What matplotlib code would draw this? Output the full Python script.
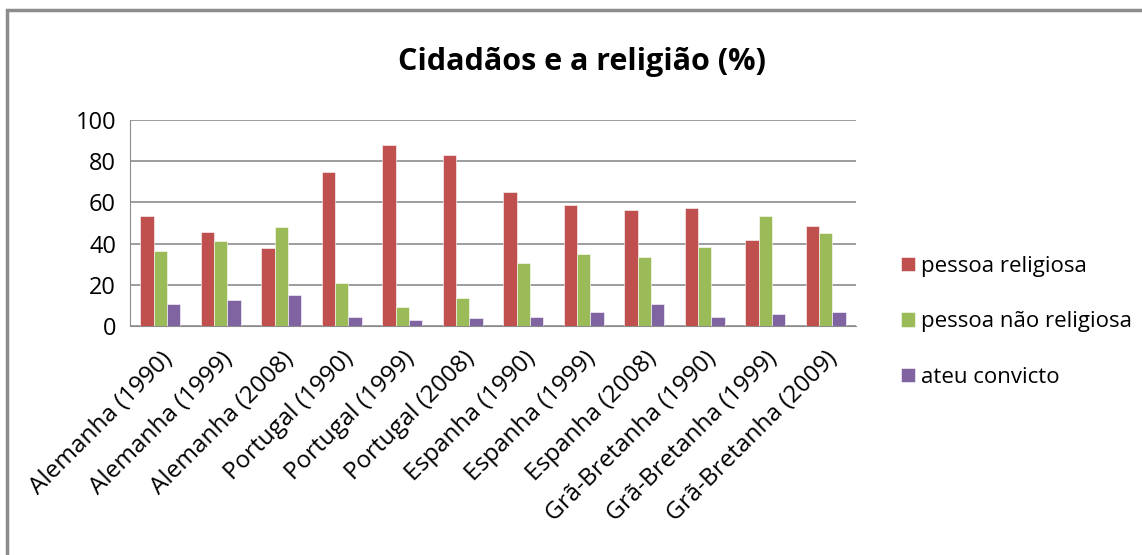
import numpy as np
import matplotlib.pyplot as plt
from matplotlib.patches import Rectangle

plt.rcParams['font.family'] = ['Open Sans', 'DejaVu Sans']

# dados
categorias = ['Alemanha (1990)', 'Alemanha (1999)', 'Alemanha (2008)',
              'Portugal (1990)', 'Portugal (1999)', 'Portugal (2008)',
              'Espanha (1990)', 'Espanha (1999)', 'Espanha (2008)',
              'Grã-Bretanha (1990)', 'Grã-Bretanha (1999)', 'Grã-Bretanha (2009)']
religiosa = [53.4, 45.8, 37.7, 74.8, 87.9, 83.0, 65.0, 58.7, 56.1, 57.4, 41.6, 48.4]
nao_religiosa = [36.2, 41.1, 47.9, 21.0, 9.2, 13.4, 30.6, 34.8, 33.3, 38.2, 53.2, 45.0]
ateu = [10.7, 12.8, 14.9, 4.5, 3.1, 3.7, 4.5, 6.6, 10.7, 4.5, 5.8, 6.6]
series = ['pessoa religiosa', 'pessoa não religiosa', 'ateu convicto']
cores = ['#C0504D', '#9BBB59', '#8064A2']

fig = plt.figure(figsize=(11.42, 5.55), dpi=100)
ax = fig.add_axes([130 / 1142, 1 - 326 / 555, 726 / 1142, 206 / 555])

# moldura do gráfico
fig.patches.append(Rectangle((7 / 1142, -0.1), 1.2, 1 - 10 / 555 + 0.1,
                             transform=fig.transFigure, fill=False,
                             edgecolor='#8c8c8c', linewidth=2.5))

x = np.arange(len(categorias))
w = 0.22
for i, (vals, nome) in enumerate(zip([religiosa, nao_religiosa, ateu], series)):
    ax.bar(x + (i - 1) * w, vals, w, color=cores[i], label=nome,
           edgecolor='white', linewidth=0.4, zorder=3)

ax.set_xlim(-0.5, len(categorias) - 0.5)
ax.set_ylim(0, 100)
ax.set_yticks(range(0, 101, 20))
ax.grid(axis='y', color='#8c8c8c', linewidth=1.2, zorder=0)
for s in ['top', 'right']:
    ax.spines[s].set_visible(False)
ax.spines['left'].set_color('#8c8c8c')
ax.spines['bottom'].set_color('#8c8c8c')
ax.tick_params(axis='y', length=0, labelsize=17, pad=10)
ax.tick_params(axis='x', length=0, pad=15)
ax.set_xticks(x)
ax.set_xticklabels(categorias, rotation=45, ha='right', rotation_mode='anchor',
                   fontsize=17.5)

fig.text(582 / 1142, 1 - 62 / 555, 'Cidadãos e a religião (%)', ha='center',
         va='center', fontsize=22, fontweight='bold')

ax.legend(loc='center left', bbox_to_anchor=(1.035, 0.02), frameon=False,
          fontsize=16, handlelength=0.6, handleheight=0.6, handletextpad=0.3,
          labelspacing=1.55)

plt.savefig('out.png', dpi=100)
